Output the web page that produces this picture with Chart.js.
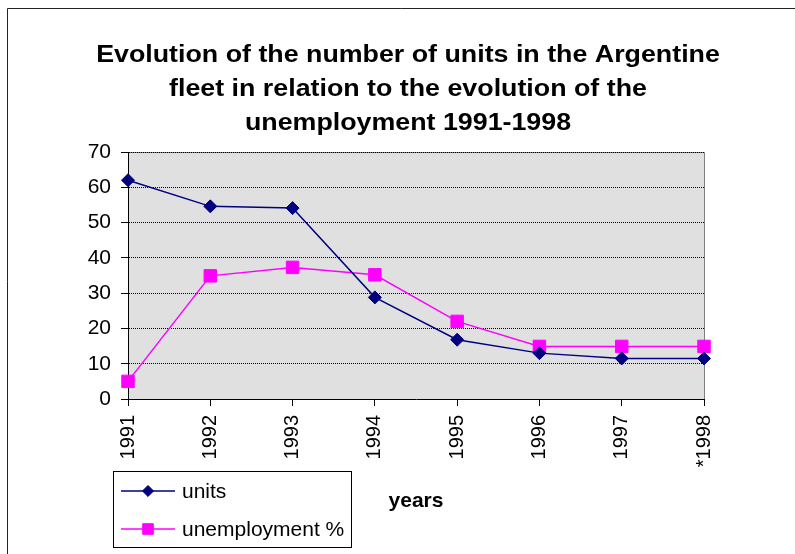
<!DOCTYPE html>
<html><head><meta charset="utf-8">
<script src="https://cdn.jsdelivr.net/npm/chart.js@4/dist/chart.umd.min.js"></script>
<style>html,body{margin:0;padding:0;background:#fff}canvas{display:block}</style>
</head><body>
<canvas id="c" width="795" height="554"></canvas>
<script>
const years = ['1991', '1992', '1993', '1994', '1995', '1996', '1997', '*1998'];
const units = [62.0, 54.6, 54.1, 28.8, 16.8, 13.0, 11.5, 11.5];
const unemployment = [5.0, 34.9, 37.3, 35.2, 22.0, 14.9, 14.9, 14.9];
const yMin = 0, yMax = 70, yStep = 10;
const titleLines = ['Evolution of the number of units in the Argentine', 'fleet in relation to the evolution of the', 'unemployment 1991-1998'];
const xTitle = 'years';

const FONT = "'Liberation Sans', Arial, Helvetica, sans-serif";

const decor = {
  id: 'decor',
  beforeDraw(chart) {
    const {ctx, chartArea: a} = chart;
    ctx.save();
    ctx.fillStyle = '#fff';
    ctx.fillRect(0, 0, chart.width, chart.height);
    ctx.strokeStyle = '#222';
    ctx.lineWidth = 1;
    ctx.beginPath();
    ctx.moveTo(7.5, chart.height);
    ctx.lineTo(7.5, 8.5);
    ctx.lineTo(chart.width, 8.5);
    ctx.stroke();
    ctx.fillStyle = '#e0e0e0';
    ctx.fillRect(a.left, a.top, a.right - a.left, a.bottom - a.top);
    ctx.strokeStyle = '#808080';
    ctx.beginPath();
    ctx.moveTo(a.left, a.top + 0.5);
    ctx.lineTo(Math.round(a.right) + 0.5, a.top + 0.5);
    ctx.lineTo(Math.round(a.right) + 0.5, a.bottom);
    ctx.stroke();
    ctx.restore();
  },
  afterDraw(chart) {
    const {ctx} = chart;
    ctx.save();
    ctx.fillStyle = '#000';
    ctx.font = 'bold 23px ' + FONT;
    ctx.textAlign = 'center';
    ctx.textBaseline = 'alphabetic';
    titleLines.forEach((t, i) => {
      ctx.save();
      ctx.translate(408, 62 + i * 34);
      ctx.scale(1.165, 1);
      ctx.fillText(t, 0, 0);
      ctx.restore();
    });
    const bx = 113.5, by = 471.5, bw = 238, bh = 76;
    ctx.strokeStyle = '#000';
    ctx.lineWidth = 1;
    ctx.strokeRect(bx, by, bw, bh);
    ctx.textAlign = 'left';
    ctx.textBaseline = 'middle';
    chart.data.datasets.forEach((ds, i) => {
      const yy = 491 + i * 38;
      ctx.strokeStyle = ds.borderColor;
      ctx.lineWidth = ds.borderWidth;
      ctx.beginPath();
      ctx.moveTo(121, yy);
      ctx.lineTo(175, yy);
      ctx.stroke();
      ctx.fillStyle = ds.pointBackgroundColor;
      ctx.strokeStyle = ds.pointBorderColor;
      ctx.lineWidth = 1;
      Chart.helpers.drawPoint(ctx, {pointStyle: ds.pointStyle, radius: ds.pointRadius * 0.85, borderWidth: 1, rotation: 0}, 148, yy);
      ctx.fillStyle = '#000';
      ctx.font = '21px ' + FONT;
      ctx.fillText(ds.label, 182, yy + 1);
    });
    ctx.restore();
  }
};

new Chart(document.getElementById('c'), {
  type: 'line',
  data: {
    labels: years,
    datasets: [
      {label: 'units', data: units, borderColor: '#000080', backgroundColor: '#000080',
       borderWidth: 1.5, pointStyle: 'rectRot', pointRadius: 6.5, pointBorderWidth: 1,
       pointBackgroundColor: '#000080', pointBorderColor: '#000080', tension: 0},
      {label: 'unemployment %', data: unemployment, borderColor: '#ff00ff', backgroundColor: '#ff00ff',
       borderWidth: 1.5, pointStyle: 'rect', pointRadius: 8.8, pointBorderWidth: 1,
       pointBackgroundColor: '#ff00ff', pointBorderColor: '#ff00ff', tension: 0}
    ]
  },
  options: {
    responsive: false,
    animation: false,
    devicePixelRatio: 1,
    layout: {padding: {left: 88, right: 91, top: 152, bottom: 0}},
    plugins: {legend: {display: false}, title: {display: false}, tooltip: {enabled: false}},
    scales: {
      x: {
        type: 'category',
        offset: false,
        grid: {drawOnChartArea: false, drawTicks: true, tickLength: 7, color: '#000', tickColor: '#000'},
        border: {display: true, color: '#000', width: 1},
        ticks: {minRotation: 90, maxRotation: 90, autoSkip: false, padding: 9, color: '#000', font: {family: FONT, size: 20}},
        title: {display: true, text: xTitle, color: '#000', font: {family: FONT, size: 21, weight: 'bold'}, padding: {top: 0, bottom: 40}},
        afterFit(s) { s.height = 155; }
      },
      y: {
        min: yMin, max: yMax,
        grid: {drawOnChartArea: true, drawTicks: true, tickLength: 7, color: '#000', tickColor: '#000', tickBorderDash: [], lineWidth: 1},
        border: {display: true, color: '#000', width: 1, dash: [1, 1]},
        ticks: {stepSize: yStep, padding: 10, color: '#000', font: {family: FONT, size: 21}},
        afterFit(s) { s.width = 40; }
      }
    }
  },
  plugins: [decor]
});
</script>
</body></html>
